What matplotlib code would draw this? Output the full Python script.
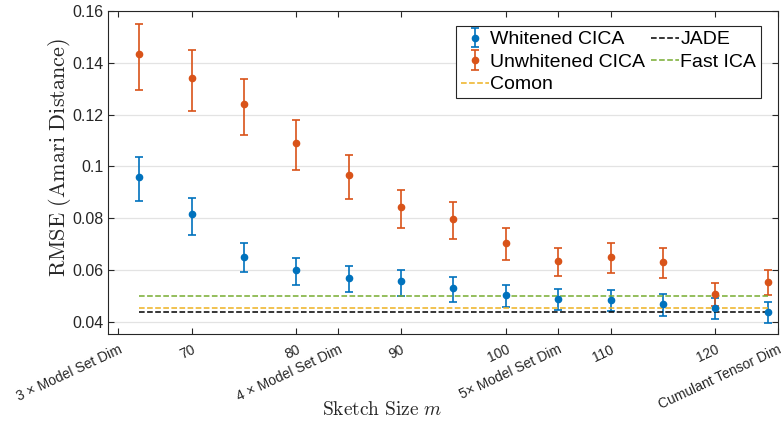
import numpy as np
import matplotlib.pyplot as plt

plt.rcParams['font.family'] = ['Liberation Sans', 'DejaVu Sans']
plt.rcParams['mathtext.fontset'] = 'cm'

sketch = [65, 70, 75, 80, 85, 90, 95, 100, 105, 110, 115, 120, 125]

white_mean = [0.0958, 0.0814, 0.0651, 0.0600, 0.0569, 0.0555, 0.0529, 0.0502, 0.0488, 0.0484, 0.0469, 0.0452, 0.0436]
white_top = [0.1035, 0.0879, 0.0704, 0.0647, 0.0614, 0.0598, 0.0571, 0.0542, 0.0527, 0.0521, 0.0506, 0.0490, 0.0475]
white_bot = [0.0864, 0.0735, 0.0590, 0.0542, 0.0513, 0.0500, 0.0476, 0.0455, 0.0445, 0.0439, 0.0423, 0.0410, 0.0395]

unwhite_mean = [0.1435, 0.1343, 0.1240, 0.1089, 0.0967, 0.0843, 0.0797, 0.0703, 0.0633, 0.0649, 0.0630, 0.0508, 0.0553]
unwhite_top = [0.1549, 0.1451, 0.1339, 0.1178, 0.1045, 0.0910, 0.0861, 0.0760, 0.0685, 0.0702, 0.0683, 0.0549, 0.0600]
unwhite_bot = [0.1296, 0.1213, 0.1120, 0.0984, 0.0873, 0.0761, 0.0720, 0.0636, 0.0575, 0.0587, 0.0569, 0.0459, 0.0502]

jade = 0.0437
fast_ica = 0.0497
comon = 0.0454

tick_pos = [63, 70, 80, 84, 90, 100, 105, 110, 120, 126]
tick_lab = ['3 × Model Set Dim', '70', '80', '4 × Model Set Dim', '90', '100',
            '5× Model Set Dim', '110', '120', 'Cumulant Tensor Dim']

blue = '#0072BD'
orange = '#D95319'
yellow = '#EDB120'
green = '#77AC30'

fig = plt.figure(figsize=(7.81, 4.23), dpi=100)
ax = fig.add_axes([0.1383, 0.2104, 0.8579, 0.7636])

wm = np.array(white_mean)
um = np.array(unwhite_mean)
h1 = ax.errorbar(sketch, wm, yerr=[wm - np.array(white_bot), np.array(white_top) - wm],
                 fmt='o', color=blue, markersize=4.5, capsize=3, elinewidth=1.2, capthick=1.2)
h2 = ax.errorbar(sketch, um, yerr=[um - np.array(unwhite_bot), np.array(unwhite_top) - um],
                 fmt='o', color=orange, markersize=4.5, capsize=3, elinewidth=1.2, capthick=1.2)

xs = [sketch[0], sketch[-1]]
h3, = ax.plot(xs, [comon] * 2, '--', color=yellow, lw=1.1)
h4, = ax.plot(xs, [jade] * 2, '--', color='black', lw=1.1)
h5, = ax.plot(xs, [fast_ica] * 2, '--', color=green, lw=1.1)

ax.set_xlim(62, 126)
ax.set_ylim(0.0352, 0.16)
ax.set_yticks([0.04, 0.06, 0.08, 0.1, 0.12, 0.14, 0.16])
ax.set_yticklabels(['0.04', '0.06', '0.08', '0.1', '0.12', '0.14', '0.16'])
ax.set_xticks(tick_pos)
ax.set_xticklabels(tick_lab, rotation=25, ha='right', rotation_mode='anchor')

ax.grid(axis='y', color='#e3e3e3', linewidth=0.9)
ax.set_axisbelow(True)
ax.tick_params(direction='in', top=True, right=True, length=4,
               colors='#262626', width=0.8)
ax.tick_params(axis='y', labelsize=11.5)
ax.tick_params(axis='x', labelsize=10, pad=6)
for sp in ax.spines.values():
    sp.set_color('#262626')
    sp.set_linewidth(0.8)

ax.set_ylabel(r'$\mathrm{RMSE\ (Amari\ Distance)}$', fontsize=16, color='#262626')
ax.yaxis.set_label_coords(-0.072, 0.548)
ax.yaxis.label.set_va('center')
ax.set_xlabel(r'$\mathrm{Sketch\ Size}\ m$', fontsize=14, color='#262626')
ax.xaxis.set_label_coords(0.409, -0.235)
ax.xaxis.label.set_va('center')

leg = ax.legend([h1, h2, h3, h4, h5],
                ['Whitened CICA', 'Unwhitened CICA', 'Comon', 'JADE', 'Fast ICA'],
                ncol=2, loc='upper right', bbox_to_anchor=(0.9746, 0.9536), fontsize=14,
                frameon=True, fancybox=False, framealpha=1, edgecolor='#262626',
                handlelength=1.45, handletextpad=0.05, columnspacing=0.3, labelspacing=0.25,
                borderpad=0.25, borderaxespad=0)
leg.get_frame().set_linewidth(0.8)

fig.savefig('out.png', dpi=100)
